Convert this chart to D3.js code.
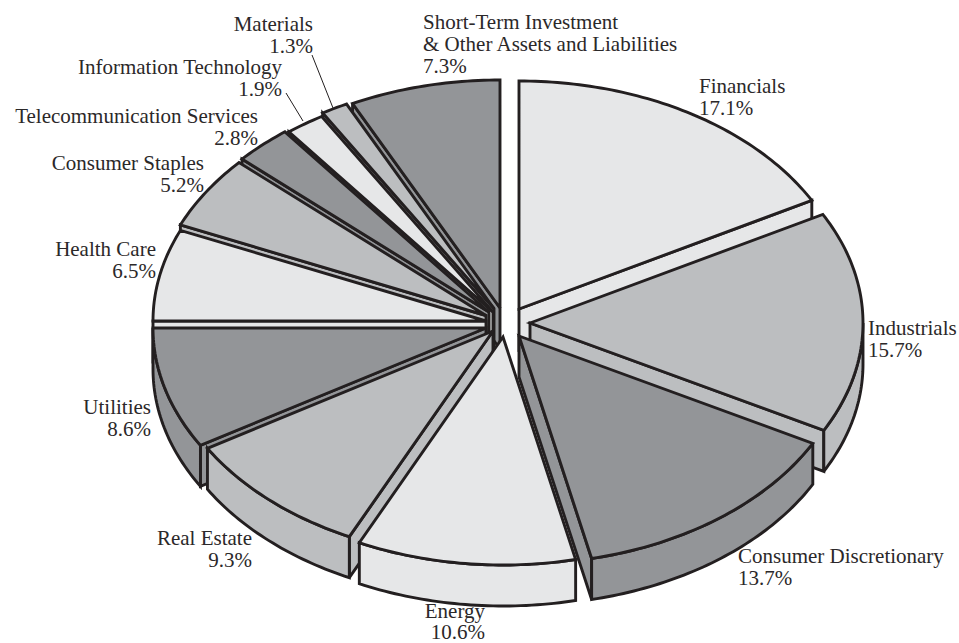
<!DOCTYPE html>
<html>
<head>
<meta charset="utf-8">
<script src="https://cdn.jsdelivr.net/npm/d3@7/dist/d3.min.js"></script>
<style>
  html, body { margin: 0; padding: 0; background: #fff; }
  svg { display: block; }
  text { font-family: "Liberation Serif", serif; font-size: 21px; fill: #2b2829; }
</style>
</head>
<body>
<div id="chart"></div>
<script>
// Sector allocation, percent of portfolio, clockwise from twelve o'clock.
const sectors = ["Financials", "Industrials", "Consumer Discretionary", "Energy", "Real Estate",
  "Utilities", "Health Care", "Consumer Staples", "Telecommunication Services",
  "Information Technology", "Materials", "Short-Term Investment & Other Assets and Liabilities"];
const shares = [17.1, 15.7, 13.7, 10.6, 9.3, 8.6, 6.5, 5.2, 2.8, 1.9, 1.3, 7.3];

// Label lines per sector (the last sector wraps on to a second line of text).
const labelLines = [["Financials"], ["Industrials"], ["Consumer Discretionary"], ["Energy"], ["Real Estate"],
  ["Utilities"], ["Health Care"], ["Consumer Staples"], ["Telecommunication Services"],
  ["Information Technology"], ["Materials"], ["Short-Term Investment", "& Other Assets and Liabilities"]];

// Presentation settings, kept apart from the values.
const width = 959, height = 643;
const centre = { x: 507, y: 323 };
const radiusX = 333, radiusY = 228, depth = 41;
const greys = ["#e6e7e8", "#bcbec0", "#939598"];
const ink = "#231f20";
// How far each wedge is pulled away from the centre, in pixels.
const pull = [[12, -14], [23, 0], [12, 13], [-4, 14], [-14, 8], [-21, 5],
  [-21, -2], [-21, -7.5], [-18, -11], [-14, -11], [-13, -14.5], [-7, -15]];
// Label anchor, x and first baseline y, with text alignment.
const labelPlace = [
  [699, 93, "start"], [868, 335, "start"], [738, 563, "start"], [485, 617.5, "end"],
  [252, 545, "end"], [151, 414, "end"], [156, 256, "end"], [204, 170, "end"],
  [258, 123, "end"], [282, 74, "end"], [313, 31, "end"], [423, 29, "start"]
];
const leaders = [null, null, null, null, null, null, null, null, null,
  [[286, 93], [303, 121]], [[312, 55], [333, 108]], null];

const svg = d3.select("#chart").append("svg").attr("width", width).attr("height", height);

// Unit-circle angles come from d3.pie, then are flattened on to the tilted ellipse.
const wedges = d3.pie().sort(null).value(d => d)(shares).map((w, i) => ({
  ...w, i, mid: (w.startAngle + w.endAngle) / 2,
  ax: centre.x + pull[i][0], ay: centre.y + pull[i][1]
}));
const xScale = d3.scaleLinear().domain([-1, 1]).range([-radiusX, radiusX]);
const yScale = d3.scaleLinear().domain([-1, 1]).range([-radiusY, radiusY]);
const pointOn = (w, t) => [w.ax + xScale(Math.sin(t)), w.ay + yScale(-Math.cos(t))];
const arcPoints = (w, a, b) => {
  const n = Math.max(2, Math.ceil(Math.abs(b - a) * 60));
  return d3.range(n + 1).map(k => pointOn(w, a + (b - a) * k / n));
};
const down = p => [p[0], p[1] + depth];
const closed = d3.line().curve(d3.curveLinearClosed);

// Paint the far wedges first so nearer ones overlap them.
const order = wedges.slice().sort((p, q) => Math.cos(q.mid) - Math.cos(p.mid));
const pieGroup = svg.append("g");

function face(g, pts, fill) {
  g.append("path").attr("d", closed(pts)).attr("fill", fill).attr("stroke", ink)
    .attr("stroke-width", 2.9).attr("stroke-linejoin", "miter").attr("stroke-miterlimit", 3);
}

order.forEach(w => {
  const fill = greys[w.i % 3];
  const g = pieGroup.append("g");
  const apex = [w.ax, w.ay];
  // Cut side facing the viewer.
  if (Math.sin(w.endAngle) > 1e-6) {
    const p = pointOn(w, w.endAngle);
    face(g, [apex, p, down(p), down(apex)], fill);
  }
  if (Math.sin(w.startAngle) < -1e-6) {
    const p = pointOn(w, w.startAngle);
    face(g, [apex, p, down(p), down(apex)], fill);
  }
  // Rim, only along the near half of the ellipse.
  const a = Math.max(w.startAngle, Math.PI / 2), b = Math.min(w.endAngle, Math.PI * 1.5);
  if (b > a) {
    const rim = arcPoints(w, a, b);
    face(g, rim.concat(rim.map(down).reverse()), fill);
  }
  // Top surface.
  face(g, [apex].concat(arcPoints(w, w.startAngle, w.endAngle)), fill);
});

// Thin leader lines for the two narrowest top labels.
svg.append("g").selectAll("line").data(leaders.filter(Boolean)).join("line")
  .attr("x1", d => d[0][0]).attr("y1", d => d[0][1])
  .attr("x2", d => d[1][0]).attr("y2", d => d[1][1])
  .attr("stroke", ink).attr("stroke-width", 1);

// Labels: sector name(s) followed by the percentage.
const lineHeight = 21.8;
svg.append("g").selectAll("text").data(sectors).join("text")
  .attr("text-anchor", (d, i) => labelPlace[i][2])
  .each(function (d, i) {
    const lines = labelLines[i].concat([shares[i].toFixed(1) + "%"]);
    d3.select(this).selectAll("tspan").data(lines).join("tspan")
      .attr("x", labelPlace[i][0])
      .attr("y", (l, k) => labelPlace[i][1] + k * lineHeight)
      .text(l => l);
  });
</script>
</body>
</html>
